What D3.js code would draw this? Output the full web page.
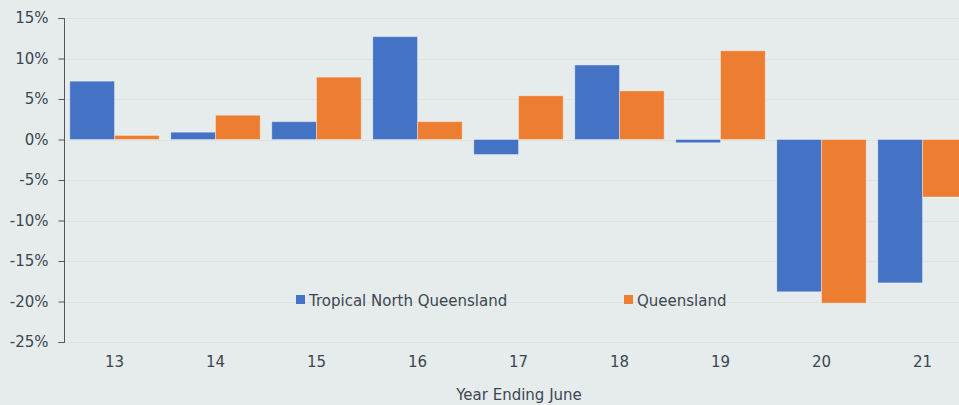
<!DOCTYPE html>
<html><head><meta charset="utf-8">
<script src="https://cdn.jsdelivr.net/npm/d3@7"></script>
<style>
html,body{margin:0;padding:0;background:#e6ecec;overflow:hidden;}
svg{display:block;}
text{font-family:"DejaVu Sans",Verdana,sans-serif;fill:#3b4652;}
</style></head>
<body>
<svg id="c" width="959" height="405"></svg>
<script>
const categories = ["13","14","15","16","17","18","19","20","21"];
const seriesNames = ["Tropical North Queensland","Queensland"];
const tnq = [7.2, 0.9, 2.2, 12.7, -1.85, 9.2, -0.4, -18.8, -17.7];
const qld = [0.5, 3.0, 7.7, 2.2, 5.4, 6.0, 10.95, -20.2, -7.1];
const yTicks = [15,10,5,0,-5,-10,-15,-20,-25];
const colors = ["#4472C4","#ED7D31"];
const xTitle = "Year Ending June";

const svg = d3.select("#c");
svg.append("rect").attr("width",959).attr("height",405).attr("fill","#e6ecec");

const y = d3.scaleLinear().domain([-25,15]).range([342,18]);
const x = d3.scaleBand().domain(categories).range([64,973]).paddingInner(0.115).paddingOuter(0.0575);
const xs = d3.scaleBand().domain(seriesNames).range([0,x.bandwidth()]);

// gridlines
svg.append("g").selectAll("line").data(yTicks).join("line")
  .attr("x1",64).attr("x2",959)
  .attr("y1",d=>Math.round(y(d))+0.5).attr("y2",d=>Math.round(y(d))+0.5)
  .attr("stroke","#dfe0e0").attr("stroke-width",1);

// bars
const data = categories.map((c,i)=>({c, vals:[tnq[i],qld[i]]}));
const g = svg.append("g");
data.forEach(d=>{
  d.vals.forEach((v,j)=>{
    const s = seriesNames[j];
    g.append("rect")
      .attr("x",x(d.c)+xs(s))
      .attr("width",xs.bandwidth())
      .attr("y",y(Math.max(0,v)))
      .attr("height",Math.abs(y(v)-y(0)))
      .attr("fill",colors[j])
      .attr("stroke","rgba(255,255,255,0.35)")
      .attr("stroke-width",1);
  });
});

// y axis
const yAxis = d3.axisLeft(y).tickValues(yTicks).tickFormat(d=>d+"%").tickSize(6).tickPadding(10);
const ya = svg.append("g").attr("transform","translate(64.5,0)").call(yAxis);
ya.select(".domain").attr("stroke","#555").attr("d","M-6,"+(y(15)+0.5)+"H0V"+(y(-25)+0.5)+"H-6");
ya.selectAll(".tick line").attr("stroke","#555");
ya.selectAll(".tick text").style("font-size","15px").attr("fill","#3b4652");

// x labels
const xAxis = d3.axisBottom(x).tickSize(0).tickPadding(14);
const xa = svg.append("g").attr("transform","translate(0,342)").call(xAxis);
xa.select(".domain").remove();
xa.selectAll(".tick text").style("font-size","15px").attr("fill","#3b4652");

svg.append("text").attr("x",519).attr("y",400).attr("text-anchor","middle")
  .style("font-size","15px").text(xTitle);

// legend
const legX = [296,624];
seriesNames.forEach((s,j)=>{
  svg.append("rect").attr("x",legX[j]).attr("y",295).attr("width",9).attr("height",9).attr("fill",colors[j]);
  svg.append("text").attr("x",legX[j]+13).attr("y",306).style("font-size","15px").text(s);
});
</script>
</body></html>
